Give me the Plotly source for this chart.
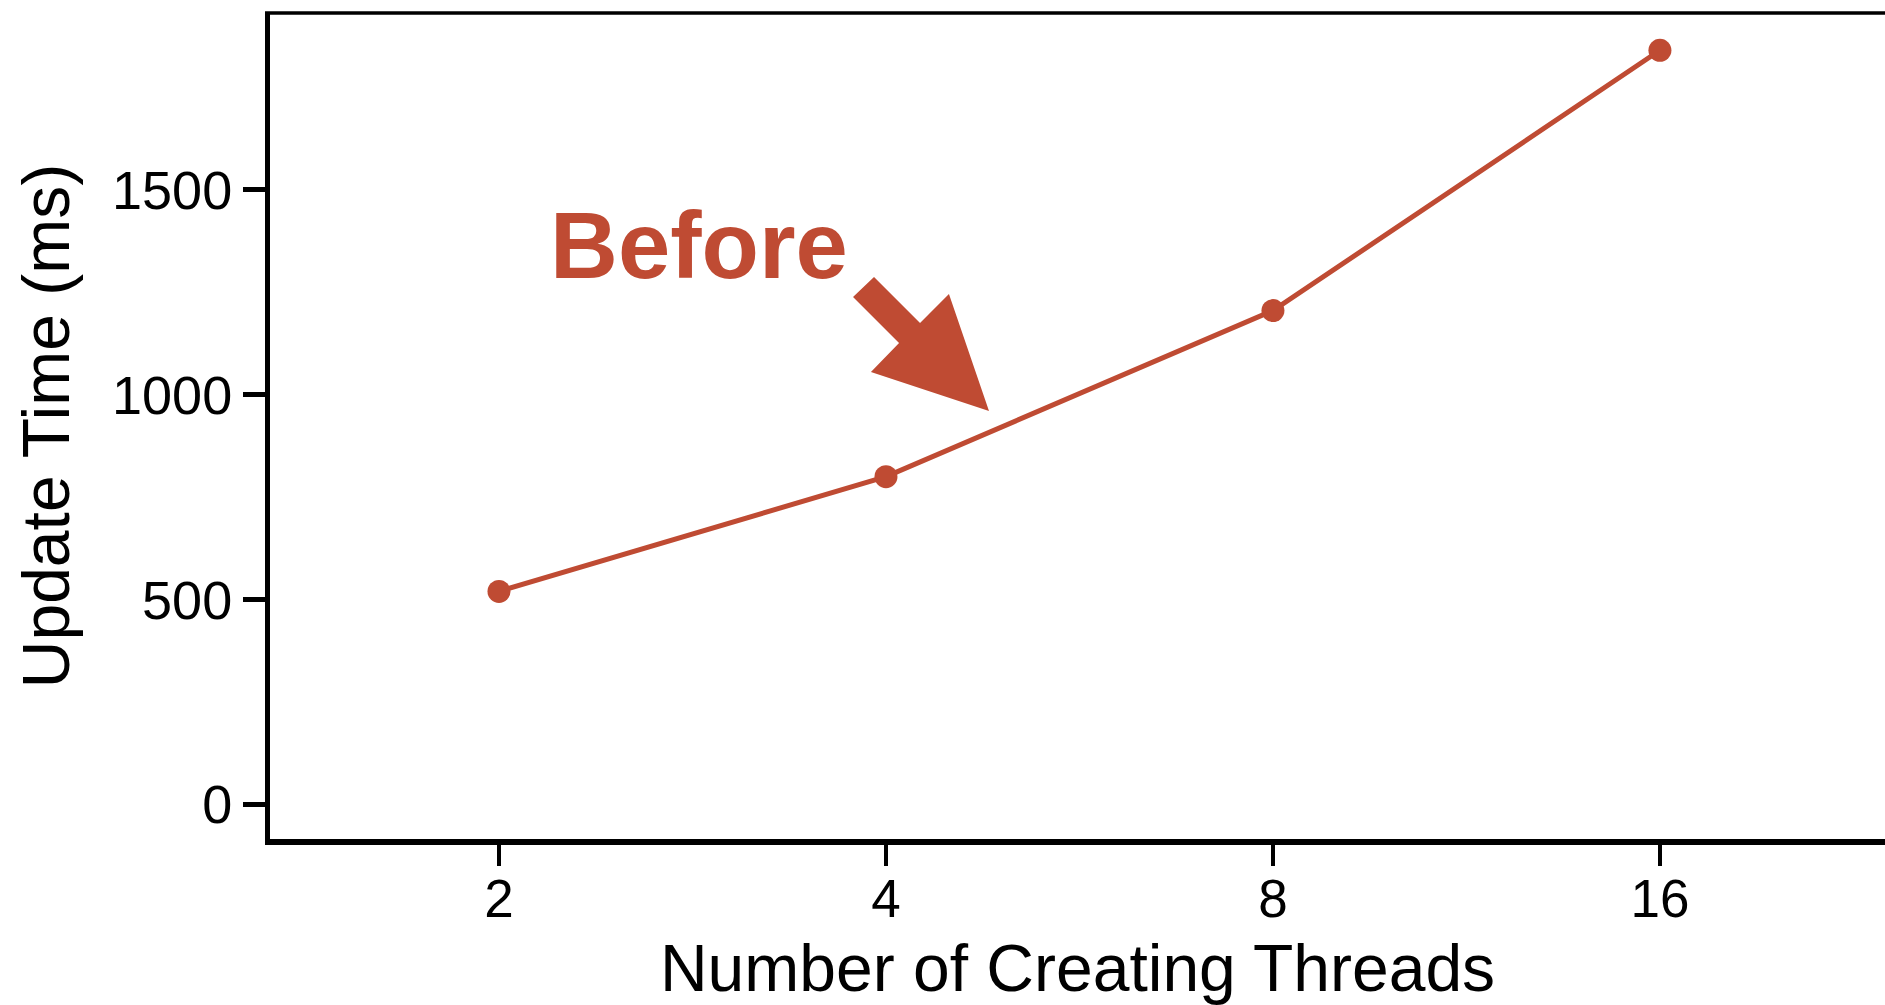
import plotly.graph_objects as go

# Update time measured for each number of creating threads
threads = [2, 4, 8, 16]
update_ms = [520, 800, 1205, 1840]

x_ticks = [2, 4, 8, 16]
x_tick_labels = ["2", "4", "8", "16"]
y_ticks = [0, 500, 1000, 1500]
y_tick_labels = ["0", "500", "1000", "1500"]

RED = "#BF4B33"
FONT = "Liberation Sans, Arial, Helvetica, sans-serif"

W, H = 1885, 1005
M_L, M_T, M_R, M_B = 270, 13, 0, 166
plot_w = W - M_L - M_R
plot_h = H - M_T - M_B


def to_paper(px, py):
    """Pixel position on the page -> paper coordinates of the plot area."""
    return (px - M_L) / plot_w, (H - M_B - py) / plot_h


# Block arrow pointing at the curve, outlined in page pixels
arrow_px = [(853, 297), (874, 277), (920, 323), (949, 294),
            (989, 411), (871, 372), (899, 343)]
arrow_pts = [to_paper(px, py) for px, py in arrow_px]
arrow_path = "M " + " L ".join(f"{x:.4f},{y:.4f}" for x, y in arrow_pts) + " Z"

fig = go.Figure()
fig.add_trace(go.Scatter(
    x=threads, y=update_ms, mode="lines+markers",
    line=dict(color=RED, width=5),
    marker=dict(color=RED, size=23),
    showlegend=False, hoverinfo="x+y",
))

bx, by = to_paper(699, 246)
fig.add_annotation(
    x=bx, y=by, xref="paper", yref="paper", showarrow=False,
    text="<b>Before</b>", font=dict(family=FONT, size=94, color=RED),
    xanchor="center", yanchor="middle",
)

fig.add_shape(type="path", path=arrow_path, xref="paper", yref="paper",
              fillcolor=RED, line=dict(width=0))
# Top frame line running across the plot
lx0, _ = to_paper(265, 0)
fig.add_shape(type="line", xref="paper", yref="paper", x0=lx0, x1=1.0,
              y0=1, y1=1, line=dict(color="black", width=3.5))

fig.update_layout(
    width=W, height=H,
    margin=dict(l=M_L, r=M_R, t=M_T, b=M_B, pad=0),
    paper_bgcolor="white", plot_bgcolor="white",
    font=dict(family=FONT, color="black"),
)
fig.update_xaxes(
    type="log", range=[0.1229, 1.3792],
    tickvals=x_ticks, ticktext=x_tick_labels,
    showline=True, linecolor="black", linewidth=5.5,
    ticks="outside", ticklen=21, tickwidth=4, tickcolor="black",
    tickfont=dict(size=53), ticklabelstandoff=-12,
    showgrid=False, zeroline=False,
    title=dict(text="Number of Creating Threads", font=dict(size=66), standoff=19),
)
fig.update_yaxes(
    range=[-84, 1931],
    tickvals=y_ticks, ticktext=y_tick_labels,
    showline=True, linecolor="black", linewidth=5,
    ticks="outside", ticklen=22, tickwidth=5, tickcolor="black",
    tickfont=dict(size=54), showgrid=False, zeroline=False,
    title=dict(text="Update Time (ms)", font=dict(size=66), standoff=22),
)

fig.write_html("out.html")
